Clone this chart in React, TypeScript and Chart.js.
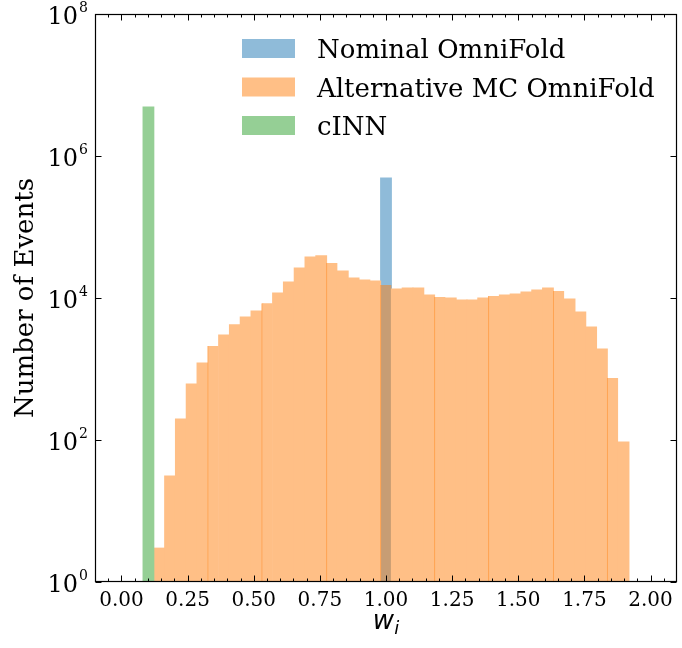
import React, { useEffect, useRef } from 'react';
import { Chart, registerables } from 'chart.js';

Chart.register(...registerables);

// Histogram bin centres (49 equal bins between 0 and 2)
const binCenters = [
  0.0204, 0.0612, 0.1020, 0.1429, 0.1837, 0.2245, 0.2653, 0.3061, 0.3469, 0.3878,
  0.4286, 0.4694, 0.5102, 0.5510, 0.5918, 0.6327, 0.6735, 0.7143, 0.7551, 0.7959,
  0.8367, 0.8776, 0.9184, 0.9592, 1.0000, 1.0408, 1.0816, 1.1224, 1.1633, 1.2041,
  1.2449, 1.2857, 1.3265, 1.3673, 1.4082, 1.4490, 1.4898, 1.5306, 1.5714, 1.6122,
  1.6531, 1.6939, 1.7347, 1.7755, 1.8163, 1.8571, 1.8980, 1.9388, 1.9796,
];

const nominalCounts = [
  null, null, null, null, null, null, null, null, null, null,
  null, null, null, null, null, null, null, null, null, null,
  null, null, null, null, 490000, null, null, null, null, null,
  null, null, null, null, null, null, null, null, null, null,
  null, null, null, null, null, null, null, null, null,
];

const alternativeCounts = [
  null, null, null, 3, 31, 198, 615, 1215, 2110, 3010,
  4210, 5400, 6560, 8420, 11750, 16800, 26500, 37800, 39400, 31100,
  24000, 19100, 17900, 17300, 15200, 13400, 13800, 13800, 11000, 10300,
  10000, 9370, 9370, 10000, 10670, 11000, 11380, 12150, 12970, 13800,
  12550, 9680, 6350, 3900, 1910, 747, 94, null, null,
];

const cinnCounts = [
  null, null, 4900000, null, null, null, null, null, null, null,
  null, null, null, null, null, null, null, null, null, null,
  null, null, null, null, null, null, null, null, null, null,
  null, null, null, null, null, null, null, null, null, null,
  null, null, null, null, null, null, null, null, null,
];

const seriesLabels = ['Nominal OmniFold', 'Alternative MC OmniFold', 'cINN'];

const xMajorTicks = [0, 0.25, 0.5, 0.75, 1.0, 1.25, 1.5, 1.75, 2.0];
const xTickLabels = ['0.00', '0.25', '0.50', '0.75', '1.00', '1.25', '1.50', '1.75', '2.00'];
const yMajorTicks = [1, 100, 10000, 1000000, 100000000];
const yTickExponents = ['0', '2', '4', '6', '8'];

// half-transparent tab colours, pre-blended on white
const BLUE = 'rgb(143,187,217)';
const ORANGE = 'rgb(255,191,134)';
const GREEN = 'rgb(149,207,149)';
// orange (alpha .5) over blue (alpha .5)
const BROWN = 'rgb(199,157,116)';
const SEAM = 'rgb(255,160,76)';
const seamBins = [8, 13, 19, 24, 29, 34, 40, 45];

const SERIF = '"DejaVu Serif", serif';
const SANS = '"DejaVu Sans", sans-serif';

const toPoints = (vals: (number | null)[]) =>
  binCenters.map((x, i) => ({ x, y: vals[i] }));

const axesDecor = {
  id: 'axesDecor',
  afterDraw(chart: any) {
    const { ctx, chartArea: a } = chart;
    const xs = chart.scales.x;
    const ys = chart.scales.y;
    const L = Math.round(a.left) + 0.5;
    const R = Math.round(a.right) - 0.5;
    const T = Math.round(a.top) + 0.5;
    const B = Math.round(a.bottom) - 0.5;
    ctx.save();
    ctx.strokeStyle = '#000';
    ctx.fillStyle = '#000';
    ctx.lineWidth = 1;

    // x minor ticks (every 0.05), inward, bottom and top
    ctx.beginPath();
    for (let k = -1; k <= 41; k++) {
      if (k % 5 === 0) continue;
      const p = Math.round(xs.getPixelForValue(k * 0.05)) + 0.5;
      ctx.moveTo(p, B); ctx.lineTo(p, B - 3);
      ctx.moveTo(p, T); ctx.lineTo(p, T + 3);
    }
    ctx.stroke();
    // x major ticks
    ctx.beginPath();
    for (const v of xMajorTicks) {
      const p = Math.round(xs.getPixelForValue(v)) + 0.5;
      ctx.moveTo(p, B); ctx.lineTo(p, B - 6);
      ctx.moveTo(p, T); ctx.lineTo(p, T + 6);
    }
    // y major ticks
    for (const v of yMajorTicks) {
      const p = Math.round(ys.getPixelForValue(v)) + 0.5;
      ctx.moveTo(L, p); ctx.lineTo(L + 6, p);
      ctx.moveTo(R, p); ctx.lineTo(R - 6, p);
    }
    ctx.stroke();

    // frame
    ctx.lineWidth = 1.2;
    ctx.strokeRect(L, T, R - L, B - T);

    // x tick labels
    ctx.font = `20px ${SERIF}`;
    ctx.textAlign = 'center';
    ctx.textBaseline = 'alphabetic';
    xMajorTicks.forEach((v, i) => {
      ctx.fillText(xTickLabels[i], xs.getPixelForValue(v), a.bottom + 24);
    });

    // y tick labels 10^n
    yMajorTicks.forEach((v, i) => {
      const p = ys.getPixelForValue(v);
      const right = a.left - 7;
      ctx.textAlign = 'left';
      ctx.font = `14px ${SERIF}`;
      const ew = ctx.measureText(yTickExponents[i]).width;
      ctx.font = `24px ${SERIF}`;
      const bw = ctx.measureText('10').width;
      const ex = right - ew;
      const bx = ex - 1 - bw;
      ctx.fillText('10', bx, p + 10);
      ctx.font = `14px ${SERIF}`;
      ctx.fillText(yTickExponents[i], ex, p - 2);
    });

    // y axis title
    ctx.save();
    ctx.translate(33, (a.top + a.bottom) / 2);
    ctx.rotate(-Math.PI / 2);
    ctx.font = `26px ${SERIF}`;
    ctx.textAlign = 'center';
    ctx.textBaseline = 'alphabetic';
    ctx.fillText('Number of Events', 0, 0);
    ctx.restore();

    // x axis title w_i
    ctx.textAlign = 'left';
    ctx.font = `oblique 26px ${SANS}`;
    const ww = ctx.measureText('w').width;
    ctx.font = `oblique 18px ${SANS}`;
    const iw = ctx.measureText('i').width;
    const cx = (a.left + a.right) / 2;
    const sx = cx - (ww + iw) / 2;
    ctx.font = `oblique 26px ${SANS}`;
    ctx.fillText('w', sx, 629);
    ctx.font = `oblique 18px ${SANS}`;
    ctx.fillText('i', sx + ww, 634);

    // legend
    const boxX = 242, boxW = 53, boxH = 19, top0 = 39, step = 38.5, textX = 317;
    ctx.font = `26px ${SERIF}`;
    const legendColors = [BLUE, ORANGE, GREEN];
    chart.data.datasets.forEach((ds: any, i: number) => {
      const top = top0 + i * step;
      ctx.fillStyle = legendColors[i];
      ctx.fillRect(boxX, top, boxW, boxH);
      ctx.fillStyle = '#000';
      ctx.fillText(ds.label, textX, top + boxH);
    });

    ctx.restore();
  },
};

export default function App() {
  const ref = useRef<HTMLCanvasElement>(null);
  useEffect(() => {
    document.body.style.margin = '0';
    const common = {
      grouped: false,
      barPercentage: 1,
      categoryPercentage: 1,
      inflateAmount: 0.5,
    };
    const chart = new Chart(ref.current as HTMLCanvasElement, {
      type: 'bar',
      data: {
        datasets: [
          {
            ...common,
            label: seriesLabels[0],
            data: toPoints(nominalCounts),
            backgroundColor: BLUE,
            borderWidth: 0,
            order: 2,
          },
          {
            ...common,
            label: seriesLabels[1],
            data: toPoints(alternativeCounts),
            backgroundColor: (c: any) =>
              nominalCounts[c.dataIndex] != null ? BROWN : ORANGE,
            borderColor: SEAM,
            borderSkipped: false,
            borderWidth: (c: any) =>
              seamBins.includes(c.dataIndex) ? { left: 1, right: 0, top: 0, bottom: 0 } : 0,
            order: 1,
          },
          {
            ...common,
            label: seriesLabels[2],
            data: toPoints(cinnCounts),
            backgroundColor: GREEN,
            borderWidth: 0,
            order: 0,
          },
        ] as any,
      },
      options: {
        animation: false,
        responsive: false,
        devicePixelRatio: 1,
        layout: { padding: { left: 95, top: 14, right: 5, bottom: 66 } },
        plugins: { legend: { display: false }, tooltip: { enabled: false } },
        scales: {
          x: { type: 'linear', min: -0.1, max: 2.1, offset: false, display: false },
          y: { type: 'logarithmic', min: 1, max: 100000000, display: false },
        },
      } as any,
      plugins: [axesDecor],
    });
    return () => chart.destroy();
  }, []);
  return (
    <div style={{ width: 682, height: 648 }}>
      <canvas ref={ref} width={682} height={648} style={{ display: 'block' }} />
    </div>
  );
}
